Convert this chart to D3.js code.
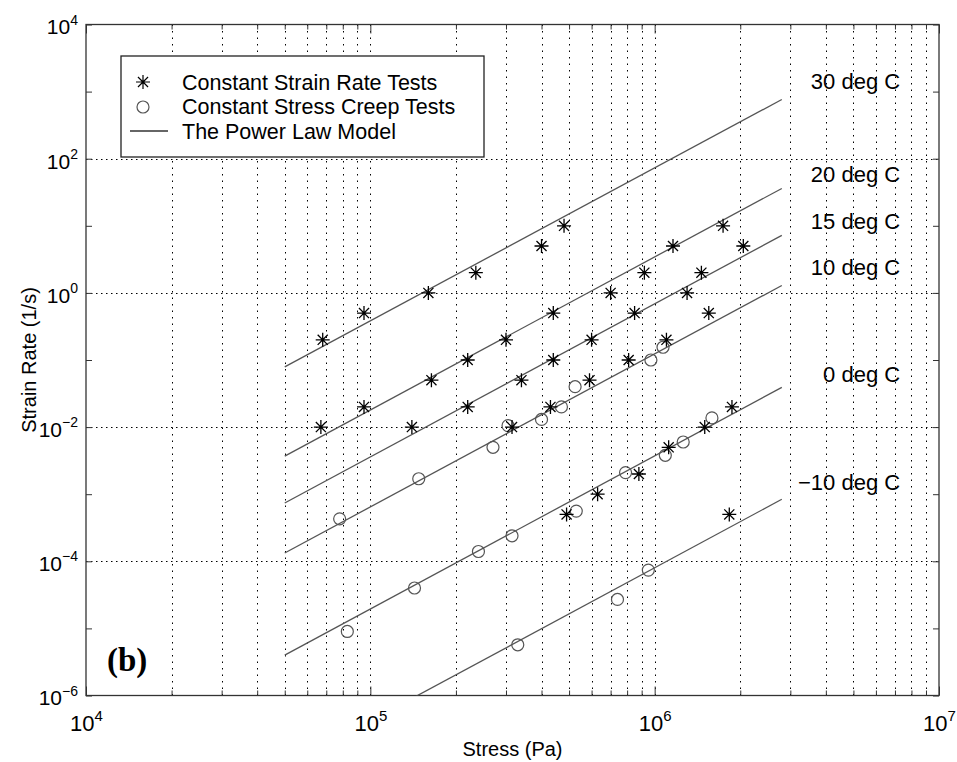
<!DOCTYPE html>
<html>
<head>
<meta charset="utf-8">
<script src="https://cdn.jsdelivr.net/npm/d3@7"></script>
<style>
  body { margin: 0; background: #fff; }
  svg text { font-family: Arial, "Liberation Sans", Helvetica, sans-serif; fill: #000; }
  svg text.serif { font-family: "Liberation Serif", "Times New Roman", serif; }
</style>
</head>
<body>
<div id="chart"></div>
<script>
// constant strain rate tests (stress Pa, strain rate 1/s)
const strainStress = [6.8e4, 9.5e4, 1.6e5, 2.35e5, 4.0e5, 4.8e5, 6.7e4, 9.5e4, 1.64e5, 2.2e5,
  3.0e5, 4.4e5, 7.0e5, 9.2e5, 1.16e6, 1.74e6, 2.05e6, 1.4e5, 2.2e5, 3.4e5,
  4.4e5, 6.0e5, 8.5e5, 1.46e6, 1.3e6, 1.55e6, 4.3e5, 5.9e5, 8.1e5, 1.1e6,
  3.15e5, 1.87e6, 1.5e6, 1.12e6, 8.8e5, 6.3e5, 4.9e5, 1.83e6]
const strainRate = [0.2, 0.5, 1, 2, 5, 10, 0.01, 0.02, 0.05, 0.1,
  0.2, 0.5, 1, 2, 5, 10, 5, 0.01, 0.02, 0.05,
  0.1, 0.2, 0.5, 2, 1, 0.5, 0.02, 0.05, 0.1, 0.2,
  0.01, 0.02, 0.01, 0.005, 0.002, 0.001, 5e-4, 5e-4]

// constant stress creep tests
const creepStress = [5.25e5, 4.7e5, 4.0e5, 3.05e5, 2.7e5, 9.7e5, 1.07e6, 1.48e5, 7.8e4, 1.09e6,
  7.9e5, 5.3e5, 3.15e5, 2.4e5, 1.43e5, 8.3e4, 9.5e5, 7.4e5, 3.3e5, 1.26e6, 1.59e6]
const creepRate = [0.04, 0.02, 0.013, 0.0105, 0.005, 0.1, 0.155, 0.0017, 4.3e-4, 0.0038,
  0.0021, 5.6e-4, 2.4e-4, 1.4e-4, 4e-5, 9e-6, 7.4e-5, 2.7e-5, 5.7e-6, 0.006, 0.0137]

// power law model lines, from stress 5e4 to 2.8e6
const modelTemps = ['30 deg C', '20 deg C', '15 deg C', '10 deg C', '0 deg C', '\u221210 deg C']
const modelStressRange = [5e4, 2.8e6]
const modelRateStart = [0.079, 0.0037, 7.4e-4, 1.33e-4, 4.0e-6, 8.6e-8]
const modelRateEnd = [762, 36, 7.2, 1.29, 0.039, 8.4e-4]
const labelRate = [1440, 59, 11.8, 2.43, 0.062, 0.00152]
const labelStress = 7.3e6

const xMajor = [1e4, 1e5, 1e6, 1e7]
const yMajor = [1e-6, 1e-4, 1e-2, 1, 1e2, 1e4]
const yDecades = d3.range(-6, 5).map(e => Math.pow(10, e))
const xMinor = []
for (let e = 4; e < 7; e++) for (let k = 2; k <= 9; k++) xMinor.push(k * Math.pow(10, e))

const width = 957
const height = 762
const plot = {left: 86, right: 939, top: 24.5, bottom: 695.5}

const x = d3.scaleLog().domain([1e4, 1e7]).range([plot.left, plot.right])
const y = d3.scaleLog().domain([1e-6, 1e4]).range([plot.bottom, plot.top])

const svg = d3.select('#chart').append('svg')
  .attr('width', width)
  .attr('height', height)

svg.append('defs').append('clipPath').attr('id', 'clip')
  .append('rect')
  .attr('x', plot.left).attr('y', plot.top)
  .attr('width', plot.right - plot.left).attr('height', plot.bottom - plot.top)

// grid
const grid = svg.append('g').attr('stroke', '#000').attr('stroke-width', 1)
grid.selectAll('line.vgrid')
  .data(xMinor.concat([1e5, 1e6]))
  .enter().append('line')
  .attr('x1', d => Math.round(x(d)) + 0.5).attr('x2', d => Math.round(x(d)) + 0.5)
  .attr('y1', plot.top).attr('y2', plot.bottom)
  .attr('stroke-dasharray', '1.5,5')
grid.selectAll('line.hgrid')
  .data([1e-4, 1e-2, 1, 1e2])
  .enter().append('line')
  .attr('x1', plot.left).attr('x2', plot.right)
  .attr('y1', d => Math.round(y(d)) + 0.5).attr('y2', d => Math.round(y(d)) + 0.5)
  .attr('stroke-dasharray', '1.5,3.5')

// axes, ticks pointing inward
const styleAxis = g => {
  g.select('.domain').remove()
  g.selectAll('.tick line').attr('stroke', '#333')
}
svg.append('g').attr('transform', `translate(0,${plot.bottom})`)
  .call(d3.axisBottom(x).tickValues(xMinor).tickSize(-5).tickFormat(''))
  .call(styleAxis)
svg.append('g').attr('transform', `translate(0,${plot.top})`)
  .call(d3.axisTop(x).tickValues(xMinor).tickSize(-5).tickFormat(''))
  .call(styleAxis)
svg.append('g').attr('transform', `translate(0,${plot.bottom})`)
  .call(d3.axisBottom(x).tickValues(xMajor).tickSize(-9).tickPadding(20).tickFormat(() => '10'))
  .call(styleAxis)
  .call(g => g.selectAll('.tick text')
    .attr('font-size', 22)
    .append('tspan').attr('dy', '-0.65em').attr('font-size', 15)
    .text(d => Math.round(Math.log10(d))))
svg.append('g').attr('transform', `translate(0,${plot.top})`)
  .call(d3.axisTop(x).tickValues(xMajor).tickSize(-9).tickFormat(''))
  .call(styleAxis)
svg.append('g').attr('transform', `translate(${plot.left},0)`)
  .call(d3.axisLeft(y).tickValues(yDecades).tickSize(-6).tickPadding(8)
    .tickFormat(d => yMajor.includes(d) ? '10' : ''))
  .call(styleAxis)
  .call(g => g.selectAll('.tick text')
    .attr('font-size', 21)
    .attr('dy', '0.45em')
    .filter(d => yMajor.includes(d))
    .append('tspan').attr('dy', '-0.7em').attr('font-size', 14)
    .text(d => String(Math.round(Math.log10(d))).replace('-', '\u2212')))
svg.append('g').attr('transform', `translate(${plot.right},0)`)
  .call(d3.axisRight(y).tickValues(yDecades).tickSize(-6).tickFormat(''))
  .call(styleAxis)

svg.append('rect')
  .attr('x', plot.left).attr('y', plot.top)
  .attr('width', plot.right - plot.left).attr('height', plot.bottom - plot.top)
  .attr('fill', 'none').attr('stroke', '#333').attr('stroke-width', 1.3)

// power law lines
const line = d3.line().x(d => x(d[0])).y(d => y(d[1]))
svg.append('g').attr('clip-path', 'url(#clip)')
  .selectAll('path')
  .data(modelTemps.map((t, i) => [[modelStressRange[0], modelRateStart[i]], [modelStressRange[1], modelRateEnd[i]]]))
  .enter().append('path')
  .attr('d', line)
  .attr('fill', 'none')
  .attr('stroke', '#555')
  .attr('stroke-width', 1.3)

// temperature labels
svg.append('g').selectAll('text')
  .data(modelTemps)
  .enter().append('text')
  .attr('x', x(labelStress))
  .attr('y', (d, i) => y(labelRate[i]))
  .attr('dy', '0.35em')
  .attr('text-anchor', 'end')
  .attr('font-size', 22)
  .text(d => d)

// markers
const asterisk = r => {
  const a = r * 0.72
  return `M0,${-r}V${r}M${-r},0H${r}M${-a},${-a}L${a},${a}M${-a},${a}L${a},${-a}`
}
svg.append('g').selectAll('circle')
  .data(creepStress)
  .enter().append('circle')
  .attr('cx', d => x(d))
  .attr('cy', (d, i) => y(creepRate[i]))
  .attr('r', 6)
  .attr('fill', 'none')
  .attr('stroke', '#555')
  .attr('stroke-width', 1.2)
svg.append('g').selectAll('path')
  .data(strainStress)
  .enter().append('path')
  .attr('transform', (d, i) => `translate(${x(d)},${y(strainRate[i])})`)
  .attr('d', asterisk(7))
  .attr('fill', 'none')
  .attr('stroke', '#000')
  .attr('stroke-width', 1.3)

// legend
const legend = svg.append('g').attr('transform', 'translate(121,56)')
legend.append('rect')
  .attr('width', 363).attr('height', 101)
  .attr('fill', '#fff').attr('stroke', '#222').attr('stroke-width', 1.3)
legend.append('path').attr('transform', 'translate(22,26)')
  .attr('d', asterisk(7)).attr('stroke', '#000').attr('stroke-width', 1.2)
legend.append('circle').attr('cx', 22).attr('cy', 51).attr('r', 6)
  .attr('fill', 'none').attr('stroke', '#555').attr('stroke-width', 1.2)
legend.append('line').attr('x1', 9).attr('x2', 47).attr('y1', 75).attr('y2', 75)
  .attr('stroke', '#333').attr('stroke-width', 1.3)
const legendNames = ['Constant Strain Rate Tests', 'Constant Stress Creep Tests', 'The Power Law Model']
legend.selectAll('text.item')
  .data(legendNames)
  .enter().append('text')
  .attr('x', 61)
  .attr('y', (d, i) => 26 + i * 24.5)
  .attr('dy', '0.36em')
  .attr('font-size', 21.5)
  .text(d => d)

// axis titles
svg.append('text')
  .attr('x', (plot.left + plot.right) / 2)
  .attr('y', 756)
  .attr('text-anchor', 'middle')
  .attr('font-size', 20)
  .text('Stress (Pa)')
svg.append('text')
  .attr('transform', `translate(36,${(plot.top + plot.bottom) / 2}) rotate(-90)`)
  .attr('text-anchor', 'middle')
  .attr('font-size', 20)
  .text('Strain Rate (1/s)')

svg.append('text')
  .attr('class', 'serif')
  .attr('x', 107)
  .attr('y', 671)
  .attr('font-weight', 'bold')
  .attr('font-size', 33)
  .text('(b)')
</script>
</body>
</html>
